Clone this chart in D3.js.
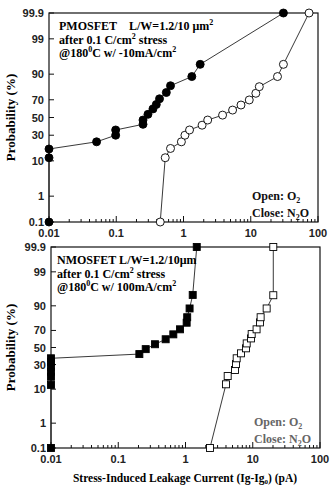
<!DOCTYPE html>
<html lang='en'>
<head>
<meta charset="utf-8">
<title>SILC probability</title>
<script src='https://d3js.org/d3.v7.min.js'></script>
<style>
  body { margin: 0; background: #fff; }
  .tick-lbl { font-family: "Liberation Sans", Arial, sans-serif; font-size: 11px; font-weight: bold; fill: #222; }
  .serif { font-family: "Liberation Serif", "Times New Roman", serif; font-weight: bold; }
</style>
</head>
<body>
<script type='text/javascript'>
var w = 332;
var h = 489;

// probability ticks (%) and current ticks (pA)
var yTicks = [0.1, 1, 10, 30, 50, 70, 90, 99, 99.9];
var yTickLabels = ['0.1', '1', '10', '30', '50', '70', '90', '99', '99.9'];
var xTicks = [0.01, 0.1, 1, 10, 100];
var xTickLabels = ['0.01', '0.1', '1', '10', '100'];

// PMOSFET, closed = N2O, open = O2
var pmosCloseI = [0.01, 0.01, 0.01, 0.051, 0.098, 0.098, 0.25, 0.25, 0.296, 0.351, 0.394, 0.44, 0.555, 0.641, 1.33, 1.77, 30.6];
var pmosCloseP = [0.1, 11.7, 17.6, 23.6, 30, 35.6, 42, 47, 53.7, 60, 65, 71, 77, 82.6, 88.7, 94.2, 99.9];
var pmosOpenI = [0.451, 0.535, 0.641, 0.93, 1.05, 1.23, 1.89, 2.29, 3.81, 5.37, 7.16, 9.5, 11.9, 13.4, 25, 30.6, 73.6];
var pmosOpenP = [0.1, 11.7, 18, 23.6, 30, 35.6, 41, 47, 52.8, 58.7, 64.4, 69.8, 76.3, 81.9, 88.7, 94.2, 99.9];

// NMOSFET
var nmosCloseI = [0.01, 0.01, 0.01, 0.01, 0.01, 0.01, 0.01, 0.206, 0.256, 0.352, 0.507, 0.659, 0.828, 1.04, 1.06, 1.15, 1.28, 1.47];
var nmosCloseP = [0.1, 12.5, 18.4, 22.8, 27.7, 33, 37, 42, 48, 54, 60, 65.7, 71.2, 77.7, 82.4, 88.5, 94.7, 99.9];
var nmosOpenI = [2.31, 4.0, 4.24, 5.45, 5.64, 5.77, 6.68, 7.94, 8.13, 9.42, 9.64, 11.4, 12.8, 13.1, 16.1, 20.2, 20.2];
var nmosOpenP = [0.1, 12.9, 19, 24.5, 30.5, 37, 42.9, 49, 55, 61, 66, 71.2, 78, 82.4, 88.5, 94.6, 99.9];

// inverse normal cdf (Acklam)
function probit(p) {
    var a = [-3.969683028665376e+01, 2.209460984245205e+02, -2.759285104469687e+02, 1.383577518672690e+02, -3.066479806614716e+01, 2.506628277459239e+00];
    var b = [-5.447609879822406e+01, 1.615858368580409e+02, -1.556989798598866e+02, 6.680131188771972e+01, -1.328068155288572e+01];
    var c = [-7.784894002430293e-03, -3.223964580411365e-01, -2.400758277161838e+00, -2.549732539343734e+00, 4.374664141464968e+00, 2.938163982698783e+00];
    var d = [7.784695709041462e-03, 3.224671290700398e-01, 2.445134137142996e+00, 3.754408661907416e+00];
    var pl = 0.02425, q, r;
    if (p < pl) {
        q = Math.sqrt(-2 * Math.log(p));
        return (((((c[0]*q+c[1])*q+c[2])*q+c[3])*q+c[4])*q+c[5]) / ((((d[0]*q+d[1])*q+d[2])*q+d[3])*q+1);
    } else if (p <= 1 - pl) {
        q = p - 0.5; r = q * q;
        return (((((a[0]*r+a[1])*r+a[2])*r+a[3])*r+a[4])*r+a[5])*q / (((((b[0]*r+b[1])*r+b[2])*r+b[3])*r+b[4])*r+1);
    } else {
        q = Math.sqrt(-2 * Math.log(1 - p));
        return -(((((c[0]*q+c[1])*q+c[2])*q+c[3])*q+c[4])*q+c[5]) / ((((d[0]*q+d[1])*q+d[2])*q+d[3])*q+1);
    }
}

var svg = d3.select('body').append('svg')
    .attr('width', w)
    .attr('height', h);

function drawPanel(box, close, open, shape, title, legendColor) {
    var xScale = d3.scaleLog().domain([0.01, 100]).range([box.left, box.right]);
    var zScale = d3.scaleLinear().domain([probit(0.001), probit(0.999)]).range([box.bottom, box.top]);
    var yScale = function(p) { return zScale(probit(p / 100)); };

    var g = svg.append('g');

    // frame
    g.append('rect')
        .attr('x', box.left).attr('y', box.top)
        .attr('width', box.right - box.left).attr('height', box.bottom - box.top)
        .attr('fill', 'none').attr('stroke', '#111').attr('stroke-width', 1.2);

    // x ticks, major and minor, pointing inward
    var minor = [];
    for (var e = -2; e < 2; e++) {
        for (var m = 2; m <= 9; m++) minor.push(m * Math.pow(10, e));
    }
    g.selectAll('.xminor').data(minor).enter().append('line')
        .attr('x1', function(d){ return xScale(d); })
        .attr('x2', function(d){ return xScale(d); })
        .attr('y1', box.bottom).attr('y2', box.bottom - 3)
        .attr('stroke', '#111');
    g.selectAll('.xmajor').data(xTicks).enter().append('line')
        .attr('x1', function(d){ return xScale(d); })
        .attr('x2', function(d){ return xScale(d); })
        .attr('y1', box.bottom).attr('y2', box.bottom - 6)
        .attr('stroke', '#111');
    g.selectAll('.xlbl').data(xTicks).enter().append('text')
        .attr('class', 'tick-lbl')
        .attr('x', function(d){ return xScale(d); })
        .attr('y', box.bottom + 15)
        .attr('text-anchor', 'middle')
        .text(function(d, i){ return xTickLabels[i]; });

    // y ticks
    g.selectAll('.ytick').data(yTicks).enter().append('line')
        .attr('x1', box.left).attr('x2', box.left + 5)
        .attr('y1', function(d){ return yScale(d); })
        .attr('y2', function(d){ return yScale(d); })
        .attr('stroke', '#111');
    g.selectAll('.ylbl').data(yTicks).enter().append('text')
        .attr('class', 'tick-lbl')
        .attr('x', box.left - 5)
        .attr('y', function(d){ return yScale(d) + 4; })
        .attr('text-anchor', 'end')
        .text(function(d, i){ return yTickLabels[i]; });

    // y label
    var cy = (box.top + box.bottom) / 2;
    g.append('text')
        .attr('class', 'serif')
        .attr('font-size', 13)
        .attr('transform', 'translate(15,' + cy + ') rotate(-90)')
        .attr('text-anchor', 'middle')
        .text('Probability (%)');

    var line = d3.line()
        .x(function(d){ return xScale(d[0]); })
        .y(function(d){ return yScale(d[1]); });

    [open, close].forEach(function(s, k) {
        var pts = d3.zip(s[0], s[1]);
        g.append('path').datum(pts)
            .attr('d', line)
            .attr('fill', 'none')
            .attr('stroke', '#222')
            .attr('stroke-width', 0.9);
        var fill = (k === 0) ? '#fff' : '#000';
        if (shape === 'circle') {
            g.selectAll(null).data(pts).enter().append('circle')
                .attr('cx', function(d){ return xScale(d[0]); })
                .attr('cy', function(d){ return yScale(d[1]); })
                .attr('r', 4)
                .attr('fill', fill).attr('stroke', '#000').attr('stroke-width', 0.9);
        } else {
            g.selectAll(null).data(pts).enter().append('rect')
                .attr('x', function(d){ return xScale(d[0]) - 3.5; })
                .attr('y', function(d){ return yScale(d[1]) - 3.5; })
                .attr('width', 7).attr('height', 7)
                .attr('fill', fill).attr('stroke', '#000').attr('stroke-width', 0.9);
        }
    });

    // title block
    title.forEach(function(row, i) {
        var tl = g.append('text').attr('class', 'serif').attr('font-size', 12)
            .attr('x', box.left + box.pad).attr('y', box.top + 17 + i * 13.5);
        row.forEach(function(part) {
            var ts = tl.append('tspan').text(part[0]);
            if (part[1] === 'sup') ts.attr('font-size', 8).attr('dy', -5);
            if (part[1] === 'back') ts.attr('dy', 5);
        });
    });

    // legend
    var lx = box.right - 66;
    var l1 = g.append('text').attr('class', 'serif').attr('font-size', 12).attr('fill', legendColor)
        .attr('x', lx).attr('y', box.bottom - 22);
    l1.append('tspan').text('Open: O');
    l1.append('tspan').attr('font-size', 8).attr('dy', 3).text('2');
    var l2 = g.append('text').attr('class', 'serif').attr('font-size', 12).attr('fill', legendColor)
        .attr('x', lx).attr('y', box.bottom - 5);
    l2.append('tspan').text('Close: N');
    l2.append('tspan').attr('font-size', 8).attr('dy', 3).text('2');
    l2.append('tspan').attr('dy', -3).text('O');
}

drawPanel({left: 49, right: 318, top: 13, bottom: 222, pad: 10},
    [pmosCloseI, pmosCloseP], [pmosOpenI, pmosOpenP], 'circle',
    [
        [['PMOSFET\u00a0\u00a0\u00a0\u00a0L/W=1.2/10 \u03bcm'], ['2', 'sup']],
        [['after 0.1 C/cm'], ['2', 'sup'], [' stress', 'back']],
        [['@180'], ['0', 'sup'], ['C w/ -10mA/cm', 'back'], ['2', 'sup']]
    ], '#111');

drawPanel({left: 51, right: 320, top: 247, bottom: 448, pad: 6},
    [nmosCloseI, nmosCloseP], [nmosOpenI, nmosOpenP], 'square',
    [
        [['NMOSFET L/W=1.2/10\u03bcm']],
        [['after 0.1 C/cm'], ['2', 'sup'], [' stress', 'back']],
        [['@180'], ['0', 'sup'], ['C w/ 100mA/cm', 'back'], ['2', 'sup']]
    ], '#666');

// x axis title
var xt = svg.append('text').attr('class', 'serif').attr('font-size', 11.5)
    .attr('x', 185).attr('y', 482).attr('text-anchor', 'middle');
xt.append('tspan').text('Stress-Induced Leakage Current (Ig-Ig');
xt.append('tspan').attr('font-size', 7).attr('dy', 2).text('0');
xt.append('tspan').attr('dy', -2).text(') (pA)');
</script>
</body>
</html>
